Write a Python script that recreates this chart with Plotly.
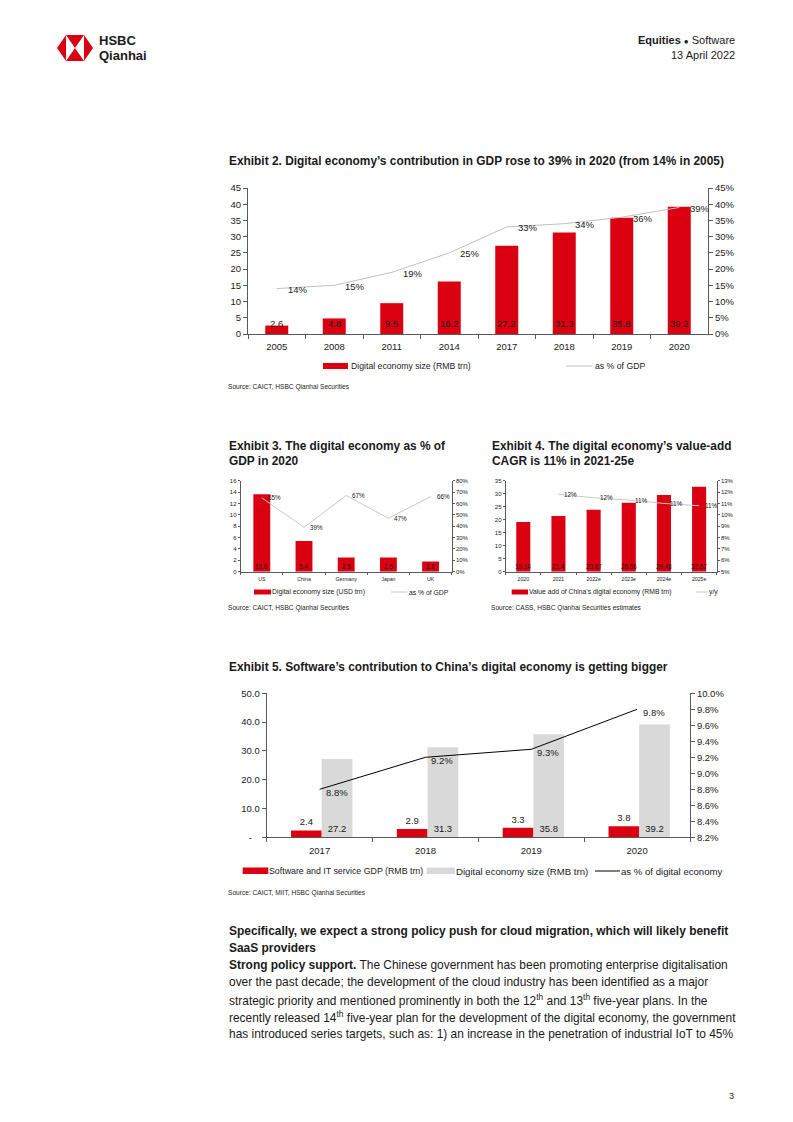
import plotly.graph_objects as go

W, H = 793, 1122
def px(x): return x / W
def py(y): return 1 - y / H

RED = '#DB0011'
AX = '#595959'
TXT = '#1a1a1a'
LGRAY = '#c0c0c0'
FONT = 'Liberation Sans, Arial, sans-serif'

# ---------------- data ----------------
ex2_years = ['2005', '2008', '2011', '2014', '2017', '2018', '2019', '2020']
ex2_size = [2.6, 4.8, 9.5, 16.2, 27.2, 31.3, 35.8, 39.2]
ex2_pct = [14, 15, 19, 25, 33, 34, 36, 39]

ex3_countries = ['US', 'China', 'Germany', 'Japan', 'UK']
ex3_size = [13.6, 5.4, 2.5, 2.5, 1.8]
ex3_pct = [65, 39, 67, 47, 66]

ex4_years = ['2020', '2021', '2022e', '2023e', '2024e', '2025e']
ex4_value = [19.14, 21.4, 23.87, 26.56, 29.48, 32.67]
ex4_yoy_years = ['2021', '2022e', '2023e', '2024e', '2025e']
ex4_yoy = [11.8, 11.5, 11.3, 11.0, 10.8]

ex5_years = ['2017', '2018', '2019', '2020']
ex5_software = [2.4, 2.9, 3.3, 3.8]
ex5_digital = [27.2, 31.3, 35.8, 39.2]
ex5_share = [8.8, 9.2, 9.3, 9.8]

fig = go.Figure()

# ---------------- traces ----------------
fig.add_trace(go.Bar(x=ex2_years, y=ex2_size, xaxis='x', yaxis='y', width=0.4,
                     marker=dict(color=RED, line_width=0), showlegend=False, hoverinfo='skip'))
fig.add_trace(go.Scatter(x=ex2_years, y=ex2_pct, xaxis='x', yaxis='y2', mode='lines',
                         line=dict(color=LGRAY, width=1), showlegend=False, hoverinfo='skip'))

fig.add_trace(go.Bar(x=ex3_countries, y=ex3_size, xaxis='x2', yaxis='y3', width=0.4,
                     marker=dict(color=RED, line_width=0), showlegend=False, hoverinfo='skip'))
fig.add_trace(go.Scatter(x=ex3_countries, y=ex3_pct, xaxis='x2', yaxis='y4', mode='lines',
                         line=dict(color='#c8c8c8', width=1), showlegend=False, hoverinfo='skip'))

fig.add_trace(go.Bar(x=ex4_years, y=ex4_value, xaxis='x3', yaxis='y5', width=0.4,
                     marker=dict(color=RED, line_width=0), showlegend=False, hoverinfo='skip'))
fig.add_trace(go.Scatter(x=ex4_yoy_years, y=ex4_yoy, xaxis='x3', yaxis='y6', mode='lines',
                         line=dict(color='#c8c8c8', width=1), showlegend=False, hoverinfo='skip'))

fig.add_trace(go.Bar(x=ex5_years, y=ex5_software, xaxis='x4', yaxis='y7', width=0.29, offset=-0.27,
                     marker=dict(color=RED, line_width=0), showlegend=False, hoverinfo='skip',
                     text=[f'{v:.1f}' for v in ex5_software], textposition='outside',
                     textfont=dict(size=9.5, color=TXT, family=FONT), cliponaxis=False))
fig.add_trace(go.Bar(x=ex5_years, y=ex5_digital, xaxis='x4', yaxis='y7', width=0.29, offset=0.02,
                     marker=dict(color='#d9d9d9', line_width=0), showlegend=False, hoverinfo='skip',
                     text=[f'{v:.1f}' for v in ex5_digital], textposition='inside',
                     insidetextanchor='start',
                     insidetextfont=dict(size=9.5, color=TXT, family=FONT)))
fig.add_trace(go.Scatter(x=ex5_years, y=ex5_share, xaxis='x4', yaxis='y8', mode='lines',
                         line=dict(color='#000000', width=1), showlegend=False, hoverinfo='skip'))

# ---------------- axes ----------------
def xa(x0, x1, anchor, fs, n, ticklen=4, standoff=0):
    return dict(domain=[px(x0), px(x1)], anchor=anchor, type='category', range=[-0.5, n - 0.5],
                autorange=False, showline=True, automargin=False,
                linecolor=AX, linewidth=1, ticks='outside', tickson='boundaries', ticklen=ticklen,
                tickcolor=AX, tickfont=dict(size=fs, color=TXT, family=FONT), showgrid=False,
                zeroline=False, fixedrange=True, tickangle=0, ticklabelstandoff=standoff)

def ya(y0, y1, anchor, rng, dtick, fs, side='left', overlaying=None, suffix='', fmt=None,
       ticklen=4, tickvals=None, ticktext=None):
    d = dict(domain=[py(y1), py(y0)], anchor=anchor, range=rng, autorange=False, dtick=dtick,
             side=side, automargin=False,
             showline=True, linecolor=AX, linewidth=1, ticks='outside', ticklen=ticklen,
             tickcolor=AX, tickfont=dict(size=fs, color=TXT, family=FONT), showgrid=False,
             zeroline=False, ticksuffix=suffix, fixedrange=True)
    if overlaying:
        d['overlaying'] = overlaying
    if fmt:
        d['tickformat'] = fmt
    if tickvals is not None:
        d['tickvals'] = tickvals
        d['ticktext'] = ticktext
        d['tickmode'] = 'array'
    return d

layout = dict(
    template='none',
    width=W, height=H, autosize=False, margin=dict(l=0, r=0, t=0, b=0, pad=0),
    paper_bgcolor='white', plot_bgcolor='rgba(0,0,0,0)', barmode='overlay',
    font=dict(family=FONT, color=TXT), showlegend=False, hovermode=False,
    xaxis=xa(248, 708, 'y', 9.5, len(ex2_years), standoff=4),
    yaxis=ya(188, 334, 'x', [0, 45], 5, 9.5),
    yaxis2=ya(188, 334, 'x', [0, 45], 5, 9.5, side='right', overlaying='y', suffix='%'),
    xaxis2=xa(240.7, 451.7, 'y3', 5.2, len(ex3_countries), ticklen=2, standoff=2),
    yaxis3=ya(480.7, 571.7, 'x2', [0, 16], 2, 6, ticklen=2),
    yaxis4=ya(480.7, 571.7, 'x2', [0, 80], 10, 6, side='right', overlaying='y3', suffix='%', ticklen=2),
    xaxis3=xa(505.7, 716.7, 'y5', 5.2, len(ex4_years), ticklen=2, standoff=2),
    yaxis5=ya(480.7, 571.7, 'x3', [0, 35], 5, 6, ticklen=2),
    yaxis6=ya(480.7, 571.7, 'x3', [5, 13], 1, 6, side='right', overlaying='y5', suffix='%', ticklen=2),
    xaxis4=xa(266.7, 690, 'y7', 9.5, len(ex5_years), standoff=4),
    yaxis7=ya(693.3, 837.3, 'x4', [0, 50], 10, 9.5,
              tickvals=[0, 10, 20, 30, 40, 50],
              ticktext=['-\u00a0\u00a0\u00a0', '10.0', '20.0', '30.0', '40.0', '50.0']),
    yaxis8=ya(693.3, 837.3, 'x4', [8.2, 10.0], 0.2, 9.5, side='right', overlaying='y7',
              suffix='%', fmt='.1f'),
)

# ---------------- annotations ----------------
ann = []
def T(x, y, text, size, bold=False, anchor='left', color=TXT, yanchor='middle'):
    ann.append(dict(x=px(x), y=py(y), xref='paper', yref='paper',
                    text=('<b>' + text + '</b>') if bold else text, showarrow=False,
                    xanchor=anchor, yanchor=yanchor, align=anchor if anchor != 'center' else 'center',
                    font=dict(size=size, color=color, family=FONT)))

def bar_labels(cats, vals, xref, yref, size, yshift, fmt):
    for i, v in enumerate(vals):
        ann.append(dict(x=i, y=0, xref=xref, yref=yref, text=fmt(v), showarrow=False,
                        yanchor='bottom', yshift=yshift, font=dict(size=size, color=TXT, family=FONT)))

def line_labels(cats, vals, xref, yref, size, xshift, yshift, fmt, first=0):
    for i, v in enumerate(vals):
        ann.append(dict(x=i + first, y=v, xref=xref, yref=yref, text=fmt(v), showarrow=False,
                        xanchor='left', yanchor='middle', xshift=xshift, yshift=yshift,
                        font=dict(size=size, color=TXT, family=FONT)))

bar_labels(ex2_years, ex2_size, 'x', 'y', 9.5, 3, lambda v: f'{v:.1f}')
line_labels(ex2_years, ex2_pct, 'x', 'y2', 9.5, 9, -1, lambda v: f'{v}%')

bar_labels(ex3_countries, ex3_size, 'x2', 'y3', 6.3, 0, lambda v: f'{v:.1f}')
line_labels(ex3_countries, ex3_pct, 'x2', 'y4', 6.3, 4, 0, lambda v: f'{v}%')

bar_labels(ex4_years, ex4_value, 'x3', 'y5', 6.3, 0, lambda v: f'{v}')
line_labels(ex4_yoy_years, ex4_yoy, 'x3', 'y6', 6.3, 4, 0, lambda v: f'{v:.0f}%',
            first=ex4_years.index(ex4_yoy_years[0]))

line_labels(ex5_years, ex5_share, 'x4', 'y8', 9.5, 4, -3, lambda v: f'{v:.1f}%')

# header
T(97, 41, 'HSBC', 13, bold=True)
T(97, 55, 'Qianhai', 13, bold=True)
T(737, 40, '<b>Equities</b> <span style="font-size:8px">●</span> Software', 11, anchor='right')
T(737, 55, '13 April 2022', 11, anchor='right')

# titles
TS = 11.9
T(227, 161, 'Exhibit 2. Digital economy’s contribution in GDP rose to 39% in 2020 (from 14% in 2005)', TS, bold=True)
T(227, 446, 'Exhibit 3. The digital economy as % of', TS, bold=True)
T(227, 461, 'GDP in 2020', TS, bold=True)
T(490, 446, 'Exhibit 4. The digital economy’s value-add', TS, bold=True)
T(490, 461, 'CAGR is 11% in 2021-25e', TS, bold=True)
T(227, 667, 'Exhibit 5. Software’s contribution to China’s digital economy is getting bigger', TS, bold=True)

# legends (text)
T(349, 366, 'Digital economy size (RMB trn)', 8.7)
T(593, 366, 'as % of GDP', 8.7)
T(270, 592, 'Digital economy size (USD trn)', 6.8)
T(407, 592, 'as % of GDP', 6.8)
T(527, 592, 'Value add of China’s digital economy (RMB trn)', 6.8)
T(707, 592, 'y/y', 6.8)
T(267, 871, 'Software and IT service GDP (RMB trn)', 8.8)
T(454, 871, 'Digital economy size (RMB trn)', 9.6)
T(619, 871, 'as % of digital economy', 9.6)

# sources
T(226, 387, 'Source: CAICT, HSBC Qianhai Securities', 6.6)
T(226, 608, 'Source: CAICT, HSBC Qianhai Securities', 6.6)
T(489, 608, 'Source: CASS, HSBC Qianhai Securities estimates', 6.6)
T(226, 893, 'Source: CAICT, MIIT, HSBC Qianhai Securities', 6.6)

# body text
body = [
    (931, '<b>Specifically, we expect a strong policy push for cloud migration, which will likely benefit</b>'),
    (948, '<b>SaaS providers</b>'),
    (965, '<b>Strong policy support.</b> The Chinese government has been promoting enterprise digitalisation'),
    (982.5, 'over the past decade; the development of the cloud industry has been identified as a major'),
    (1000, 'strategic priority and mentioned prominently in both the 12<sup>th</sup> and 13<sup>th</sup> five-year plans. In the'),
    (1017, 'recently released 14<sup>th</sup> five-year plan for the development of the digital economy, the government'),
    (1034, 'has introduced series targets, such as: 1) an increase in the penetration of industrial IoT to 45%'),
]
for y, t in body:
    T(227, y, t, 11.95)

T(736, 1096, '3', 9, anchor='right')

# ---------------- shapes (legend swatches, logo) ----------------
shapes = []
def rect(x0, y0, x1, y1, color):
    shapes.append(dict(type='rect', xref='paper', yref='paper', x0=px(x0), x1=px(x1),
                       y0=py(y1), y1=py(y0), fillcolor=color, line=dict(width=0)))
def hline(x0, x1, y, color, w=1):
    shapes.append(dict(type='line', xref='paper', yref='paper', x0=px(x0), x1=px(x1),
                       y0=py(y), y1=py(y), line=dict(color=color, width=w)))
def poly(pts, color):
    path = 'M ' + ' L '.join(f'{px(a):.5f} {py(b):.5f}' for a, b in pts) + ' Z'
    shapes.append(dict(type='path', xref='paper', yref='paper', path=path,
                       fillcolor=color, line=dict(width=0)))

rect(323, 363, 348, 369, RED)
hline(566, 592, 366, LGRAY)
rect(254, 589.5, 271, 594.5, RED)
hline(391, 407, 592, '#c8c8c8')
rect(511.7, 589.5, 528, 594.5, RED)
hline(695.7, 707.7, 592, '#c8c8c8')
rect(242.7, 867.5, 268.3, 874, RED)
rect(426.7, 867.5, 455, 874, '#d9d9d9')
hline(595, 620, 871, '#000000')

# HSBC hexagon logo
lx0, lx1, ly0, ly1 = 57, 93, 35, 61
cx0, cx1 = 66, 84
mid_y = (ly0 + ly1) / 2
mid_x = (cx0 + cx1) / 2
poly([(lx0, mid_y), (cx0, ly0), (cx0, ly1)], RED)
poly([(lx1, mid_y), (cx1, ly0), (cx1, ly1)], RED)
poly([(cx0, ly0), (cx1, ly0), (mid_x, mid_y)], RED)
poly([(cx0, ly1), (cx1, ly1), (mid_x, mid_y)], RED)

layout['annotations'] = ann
layout['shapes'] = shapes
fig.update_layout(**layout)

fig.write_html('out.html', config={'displayModeBar': False},
               post_script="document.body.style.margin='0px';")
